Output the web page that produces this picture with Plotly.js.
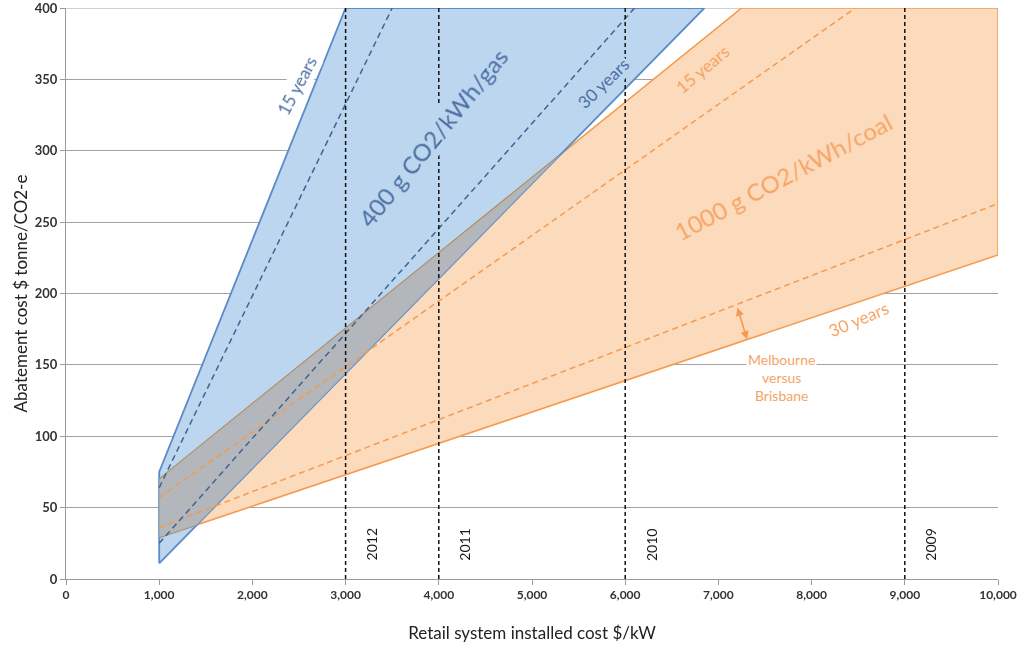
<!DOCTYPE html>
<html>
<head>
<meta charset="utf-8">
<script src="https://cdn.plot.ly/plotly-3.0.1.min.js"></script>
<style>
  html, body { margin: 0; padding: 0; background: #fff; }
  #chart { width: 1024px; height: 648px; }
</style>
</head>
<body>
<div id="chart"></div>
<script>
// Region outlines (retail cost $/kW, abatement cost $/t)
const gasAreaX = [1000, 1000, 3000, 6850, 1000];
const gasAreaY = [11, 75, 400, 400, 11];
const coalAreaX = [1000, 1000, 7250, 10000, 10000, 1000];
const coalAreaY = [29, 70, 400, 400, 227, 29];

// Dashed inner lines (second city)
const gasDash15X = [1000, 3500];
const gasDash15Y = [64, 400];
const gasDash30X = [1000, 6100];
const gasDash30Y = [25, 400];
const coalDash15X = [1000, 8470];
const coalDash15Y = [57, 400];
const coalDash30X = [1000, 10000];
const coalDash30Y = [36, 263];

// Yearly installed cost markers
const yearCost = [3000, 4000, 6000, 9000];
const yearLabels = ["2012", "2011", "2010", "2009"];

const xTicks = [0, 1000, 2000, 3000, 4000, 5000, 6000, 7000, 8000, 9000, 10000];
const yTicks = [0, 50, 100, 150, 200, 250, 300, 350, 400];

const BLUE_FILL = "#bbd6ee";
const BLUE_LINE = "#5b8cc8";
const BLUE_DASH = "#3d6594";
const BLUE_TEXT = "#4b6fa3";
const ORANGE_FILL = "#fcdabc";
const ORANGE_LINE = "#f59a4e";
const ORANGE_TEXT = "#f5a465";
const OVERLAP_FILL = "rgba(178,182,188,0.88)";
const GRID = "#a2a2a2";
const FONT = "Lato, 'Open Sans', sans-serif";

// intersection of the two (convex) regions, Sutherland-Hodgman
function clipPolygon(subjX, subjY, clipX, clipY) {
  let pts = subjX.slice(0, -1).map((x, i) => [x, subjY[i]]);
  const clip = clipX.slice(0, -1).map((x, i) => [x, clipY[i]]);
  let area = 0;
  clip.forEach((p, i) => { const q = clip[(i + 1) % clip.length]; area += p[0] * q[1] - q[0] * p[1]; });
  const sgn = area > 0 ? 1 : -1;
  const inside = (p, a, b) => sgn * ((b[0] - a[0]) * (p[1] - a[1]) - (b[1] - a[1]) * (p[0] - a[0])) >= 0;
  const cross = (p, q, a, b) => {
    const d1 = [q[0] - p[0], q[1] - p[1]], d2 = [b[0] - a[0], b[1] - a[1]];
    const den = d1[0] * d2[1] - d1[1] * d2[0];
    const t = ((a[0] - p[0]) * d2[1] - (a[1] - p[1]) * d2[0]) / den;
    return [p[0] + t * d1[0], p[1] + t * d1[1]];
  };
  for (let i = 0; i < clip.length && pts.length; i++) {
    const a = clip[i], b = clip[(i + 1) % clip.length];
    const out = [];
    pts.forEach((p, j) => {
      const prev = pts[(j + pts.length - 1) % pts.length];
      const pin = inside(p, a, b), qin = inside(prev, a, b);
      if (pin) {
        if (!qin) out.push(cross(prev, p, a, b));
        out.push(p);
      } else if (qin) {
        out.push(cross(prev, p, a, b));
      }
    });
    pts = out;
  }
  pts.push(pts[0]);
  return { x: pts.map(p => p[0]), y: pts.map(p => p[1]) };
}

const overlap = clipPolygon(gasAreaX, gasAreaY, coalAreaX, coalAreaY);

const traces = [];

traces.push({
  x: coalAreaX, y: coalAreaY, type: "scatter", mode: "lines",
  fill: "toself", fillcolor: ORANGE_FILL,
  line: { color: ORANGE_LINE, width: 1.6 }, hoverinfo: "skip"
});
traces.push({
  x: gasAreaX, y: gasAreaY, type: "scatter", mode: "lines",
  fill: "toself", fillcolor: BLUE_FILL,
  line: { color: BLUE_LINE, width: 1.8 }, hoverinfo: "skip"
});
traces.push({
  x: overlap.x, y: overlap.y, type: "scatter", mode: "lines",
  fill: "toself", fillcolor: OVERLAP_FILL,
  line: { width: 0 }, hoverinfo: "skip"
});

[[coalDash15X, coalDash15Y], [coalDash30X, coalDash30Y]].forEach(([x, y]) => {
  traces.push({ x, y, type: "scatter", mode: "lines",
    line: { color: ORANGE_LINE, width: 1.5, dash: "6px,4px" }, hoverinfo: "skip" });
});
[[gasDash15X, gasDash15Y], [gasDash30X, gasDash30Y]].forEach(([x, y]) => {
  traces.push({ x, y, type: "scatter", mode: "lines",
    line: { color: BLUE_DASH, width: 1.5, dash: "6px,4px" }, hoverinfo: "skip" });
});

yearCost.forEach(c => {
  traces.push({ x: [c, c], y: [yTicks[0], yTicks[yTicks.length - 1]],
    type: "scatter", mode: "lines",
    line: { color: "#111", width: 1.5, dash: "4px,3px" }, hoverinfo: "skip" });
});

const annotations = [];

function label(text, x, y, angle, size, color, bg) {
  annotations.push({
    text, x, y, xref: "x", yref: "y", showarrow: false, textangle: angle,
    font: { family: FONT, size, color }, bgcolor: bg || "rgba(0,0,0,0)", borderpad: 1
  });
}

label("15 years", 2478, 346, -62, 17, BLUE_TEXT, "#ffffff");
label("400 g CO2/kWh/gas", 3938, 309, -51, 24, BLUE_TEXT, BLUE_FILL);
label("30 years", 5762, 347, -44, 17, BLUE_TEXT, BLUE_FILL);
label("15 years", 6824, 357, -40, 17, ORANGE_TEXT, ORANGE_FILL);
label("1000 g CO2/kWh/coal", 7693, 282, -28, 24, ORANGE_TEXT, ORANGE_FILL);
label("30 years", 8498, 182, -23, 17, ORANGE_TEXT);
label("Melbourne<br>versus<br>Brisbane", 7672, 141, 0, 14, ORANGE_TEXT, "#ffffff");

// double arrow between the two coal 30 year lines
annotations.push({
  x: 7307, y: 168, ax: 7200, ay: 191, xref: "x", yref: "y", axref: "x", ayref: "y",
  text: "", showarrow: true, arrowhead: 2, arrowside: "end+start",
  arrowsize: 1, arrowwidth: 1.6, arrowcolor: ORANGE_LINE
});

yearCost.forEach((c, i) => {
  annotations.push({
    text: yearLabels[i], x: c + 280, y: 24, xref: "x", yref: "y",
    showarrow: false, textangle: -90,
    font: { family: FONT, size: 14, color: "#1a1a1a" }
  });
});

const layout = {
  width: 1024, height: 648,
  margin: { l: 66, r: 26, t: 8, b: 69 },
  paper_bgcolor: "#fff", plot_bgcolor: "#fff",
  showlegend: false,
  xaxis: {
    range: [0, 10000], tickvals: xTicks,
    ticktext: xTicks.map(v => v.toLocaleString("en-US")),
    showgrid: false, zeroline: false,
    showline: true, linecolor: "#9a9a9a", linewidth: 1,
    ticks: "outside", ticklen: 5, tickcolor: "#9a9a9a",
    ticklabeloverflow: "allow",
    tickfont: { family: FONT, size: 12, color: "#333", weight: "bold" },
    title: { text: "Retail system installed cost $/kW", font: { family: FONT, size: 17, color: "#222" }, standoff: 25 }
  },
  yaxis: {
    range: [0, 400], tickvals: yTicks,
    showgrid: true, gridcolor: GRID, gridwidth: 1, zeroline: false,
    showline: true, linecolor: "#9a9a9a", linewidth: 1,
    ticks: "outside", ticklen: 5, tickcolor: "#9a9a9a",
    ticklabeloverflow: "allow",
    tickfont: { family: FONT, size: 13, color: "#333", weight: "bold" },
    title: { text: "Abatement cost $ tonne/CO2-e", font: { family: FONT, size: 17, color: "#222" }, standoff: 2 }
  },
  // top gridline (plotly drops the one sitting on the plot edge)
  shapes: [{
    type: "line", layer: "below", xref: "x", yref: "y",
    x0: xTicks[0], x1: xTicks[xTicks.length - 1],
    y0: yTicks[yTicks.length - 1], y1: yTicks[yTicks.length - 1],
    line: { color: GRID, width: 1 }
  }],
  annotations
};

Plotly.newPlot("chart", traces, layout, { staticPlot: true, displayModeBar: false }).then(gd => {
  // orange and blue areas tint the gridlines beneath them instead of hiding them
  const groups = gd.querySelectorAll(".scatterlayer .trace");
  [0, 1].forEach(i => {
    const f = groups[i] && groups[i].querySelector(".js-fill");
    if (f) f.style.mixBlendMode = "multiply";
  });
});
</script>
</body>
</html>
